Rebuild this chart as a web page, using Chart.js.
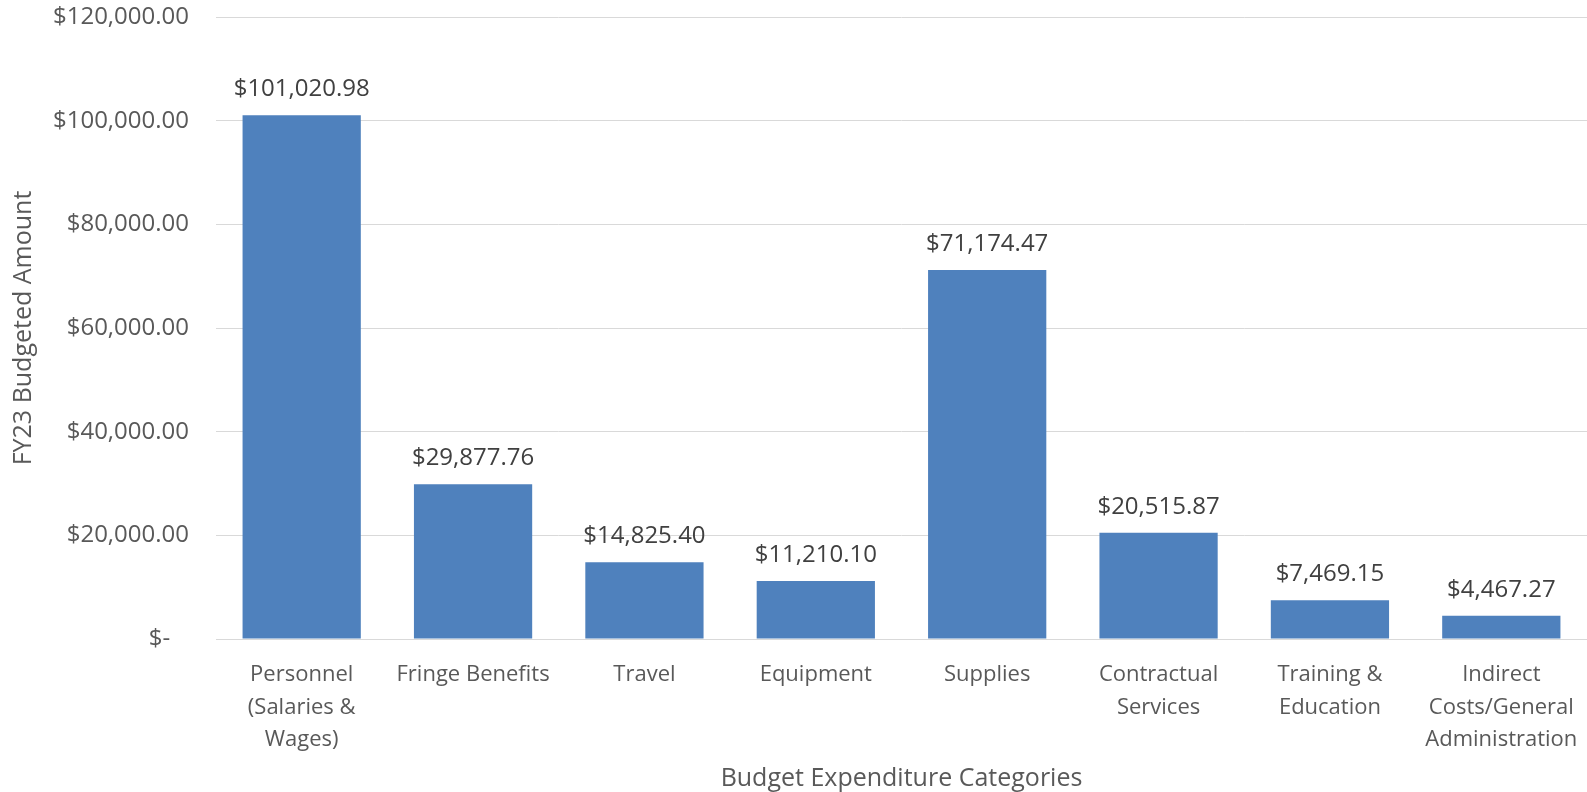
<!DOCTYPE html>
<html>
<head>
<meta charset="utf-8">
<script src="https://cdn.jsdelivr.net/npm/chart.js@4.4.0/dist/chart.umd.min.js"></script>
<style>
  html, body { margin: 0; padding: 0; background: #fff; }
  #wrap { width: 1587px; height: 792px; }
</style>
</head>
<body>
<div id="wrap"><canvas id="budgetChart" width="1587" height="792"></canvas></div>
<script>
const categories = [
  ["Personnel", "(Salaries &", "Wages)"],
  ["Fringe Benefits"],
  ["Travel"],
  ["Equipment"],
  ["Supplies"],
  ["Contractual", "Services"],
  ["Training &", "Education"],
  ["Indirect", "Costs/General", "Administration"],
];
const amounts = [101020.98, 29877.76, 14825.4, 11210.1, 71174.47, 20515.87, 7469.15, 4467.27];
const yTicks = [0, 20000, 40000, 60000, 80000, 100000, 120000];

const textGray = "#595959";
const fontFamily = "'Open Sans', 'Liberation Sans', sans-serif";

function money(v) {
  if (v === 0) return "$-   ";
  return "$" + v.toLocaleString("en-US", { minimumFractionDigits: 2, maximumFractionDigits: 2 });
}

// draws the value above each bar
const barLabels = {
  id: "barLabels",
  afterDatasetsDraw(chart) {
    const ctx = chart.ctx;
    const meta = chart.getDatasetMeta(0);
    ctx.save();
    ctx.font = "24px " + fontFamily;
    ctx.fillStyle = "#404040";
    ctx.textAlign = "center";
    ctx.textBaseline = "middle";
    meta.data.forEach((bar, i) => {
      ctx.fillText(money(amounts[i]), bar.x, bar.y - 26);
    });
    ctx.restore();
  },
};

new Chart(document.getElementById("budgetChart").getContext("2d"), {
  type: "bar",
  data: {
    labels: categories,
    datasets: [
      {
        label: "FY23 Budgeted Amount",
        data: amounts,
        backgroundColor: "#4f81bd",
        borderWidth: 0,
        categoryPercentage: 0.69,
        barPercentage: 1,
      },
    ],
  },
  options: {
    responsive: false,
    animation: false,
    layout: { padding: { top: 17, right: -8, left: 0, bottom: 0 } },
    plugins: {
      legend: { display: false },
      tooltip: { enabled: false },
    },
    scales: {
      x: {
        afterFit(scale) {
          scale.height = 153;
          scale.paddingLeft = 0;
          scale.paddingRight = 0;
        },
        grid: { display: false, drawTicks: false },
        border: { color: "#d9d9d9", width: 1 },
        ticks: {
          color: textGray,
          font: { family: fontFamily, size: 22, lineHeight: 1.47 },
          padding: 20,
          maxRotation: 0,
          autoSkip: false,
        },
        title: {
          display: true,
          text: "Budget Expenditure Categories",
          color: textGray,
          font: { family: fontFamily, size: 25 },
          padding: { top: 10, bottom: -2 },
        },
      },
      y: {
        min: 0,
        max: 120000,
        afterBuildTicks(axis) {
          axis.ticks = yTicks.map((v) => ({ value: v }));
        },
        afterFit(scale) {
          scale.width = 216;
          scale.paddingTop = 0;
          scale.paddingBottom = 0;
        },
        grid: { color: "#d9d9d9", lineWidth: 1, drawTicks: false },
        border: { display: false },
        ticks: {
          color: textGray,
          font: { family: fontFamily, size: 24 },
          padding: 27,
          callback: (v) => money(v),
        },
        title: {
          display: true,
          text: "FY23 Budgeted Amount",
          color: textGray,
          font: { family: fontFamily, size: 25 },
          padding: { top: 9, bottom: 0 },
        },
      },
    },
  },
  plugins: [barLabels],
});
</script>
</body>
</html>
